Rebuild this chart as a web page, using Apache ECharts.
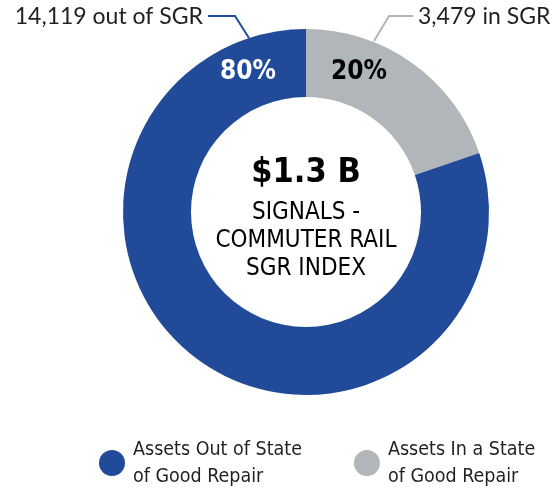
<!DOCTYPE html>
<html>
<head>
<meta charset="utf-8">
<script src="https://cdn.jsdelivr.net/npm/echarts@6/dist/echarts.min.js"></script>
<style>
  html, body { margin: 0; padding: 0; background: #fff; }
  #chart { width: 552px; height: 490px; }
</style>
</head>
<body>
<div id="chart"></div>
<script>
// data
var categories = ['Assets In a State of Good Repair', 'Assets Out of State of Good Repair'];
var counts = [3479, 14119];
var countSuffix = [' in SGR', ' out of SGR'];
var colors = ['#B0B6B9', '#214B98'];
var legendOrder = ['Assets Out of State of Good Repair', 'Assets In a State of Good Repair'];
var centerTitle = '$1.3 B';
var centerLines = ['SIGNALS -', 'COMMUTER RAIL', 'SGR INDEX'];

var NARROW = '"Liberation Sans Narrow", "DejaVu Sans Condensed", "Roboto", sans-serif';
var cx = 306, cy = 212;

// where the callouts sit (label anchor + leader line elbow / end on ring)
var callouts = [
  { x: 418, y: 17, align: 'left', line: [[374, 41], [389, 16], [413, 16]] },
  { x: 203, y: 17, align: 'right', line: [[249, 38], [235, 16], [208, 16]] }
];
var pctPos = [[359, 72], [248, 72]];
var pctColor = ['#000', '#fff'];

var chart = echarts.init(document.getElementById('chart'));
chart.setOption({
  animation: false,
  legend: {
    data: legendOrder,
    left: 94,
    top: 431,
    width: 458,
    icon: 'circle',
    itemWidth: 26,
    itemHeight: 26,
    itemGap: 52,
    selectedMode: false,
    formatter: function (name) { return name.replace(' of Good', '\nof Good'); },
    textStyle: {
      fontFamily: NARROW,
      fontSize: 19.5,
      lineHeight: 27,
      color: '#231f20',
      padding: [0, 0, 0, 3]
    }
  },
  series: [
    {
      type: 'pie',
      center: [cx, cy],
      radius: [115, 183],
      startAngle: 90,
      silent: true,
      data: categories.map(function (c, i) {
        return { name: c, value: counts[i], itemStyle: { color: colors[i] } };
      }),
      label: {
        show: true,
        position: 'outside',
        overflow: 'none',
        fontFamily: '"Lato", "Open Sans", sans-serif',
        fontSize: 23,
        color: '#231f20',
        formatter: function (p) {
          return p.value.toLocaleString('en-US') + countSuffix[p.dataIndex];
        }
      },
      labelLine: { show: true, lineStyle: { width: 2 } },
      labelLayout: function (p) {
        var c = callouts[p.dataIndex];
        return {
          x: c.x, y: c.y, align: c.align, verticalAlign: 'middle',
          width: 300,
          labelLinePoints: c.line
        };
      }
    },
    {
      type: 'pie',
      center: [cx, cy],
      radius: [115, 183],
      startAngle: 90,
      silent: true,
      percentPrecision: 0,
      data: categories.map(function (c, i) {
        return { name: c, value: counts[i], itemStyle: { color: 'rgba(0,0,0,0)' },
          label: { color: pctColor[i] } };
      }),
      label: {
        show: true,
        position: 'inside',
        fontFamily: NARROW,
        fontWeight: 'bold',
        fontSize: 26,
        formatter: '{d}%'
      },
      labelLine: { show: false },
      labelLayout: function (p) {
        return { x: pctPos[p.dataIndex][0], y: pctPos[p.dataIndex][1], align: 'center', verticalAlign: 'middle' };
      }
    }
  ],
  graphic: [
    {
      type: 'text', x: cx, y: 173,
      style: {
        text: centerTitle, fontFamily: NARROW, fontWeight: 'bold', fontSize: 34,
        fill: '#000', align: 'center', verticalAlign: 'middle'
      }
    },
    {
      type: 'text', x: cx, y: 241,
      style: {
        text: centerLines.join('\n'), fontFamily: NARROW, fontSize: 24, lineHeight: 28,
        fill: '#000', align: 'center', verticalAlign: 'middle'
      }
    }
  ]
});
</script>
</body>
</html>
